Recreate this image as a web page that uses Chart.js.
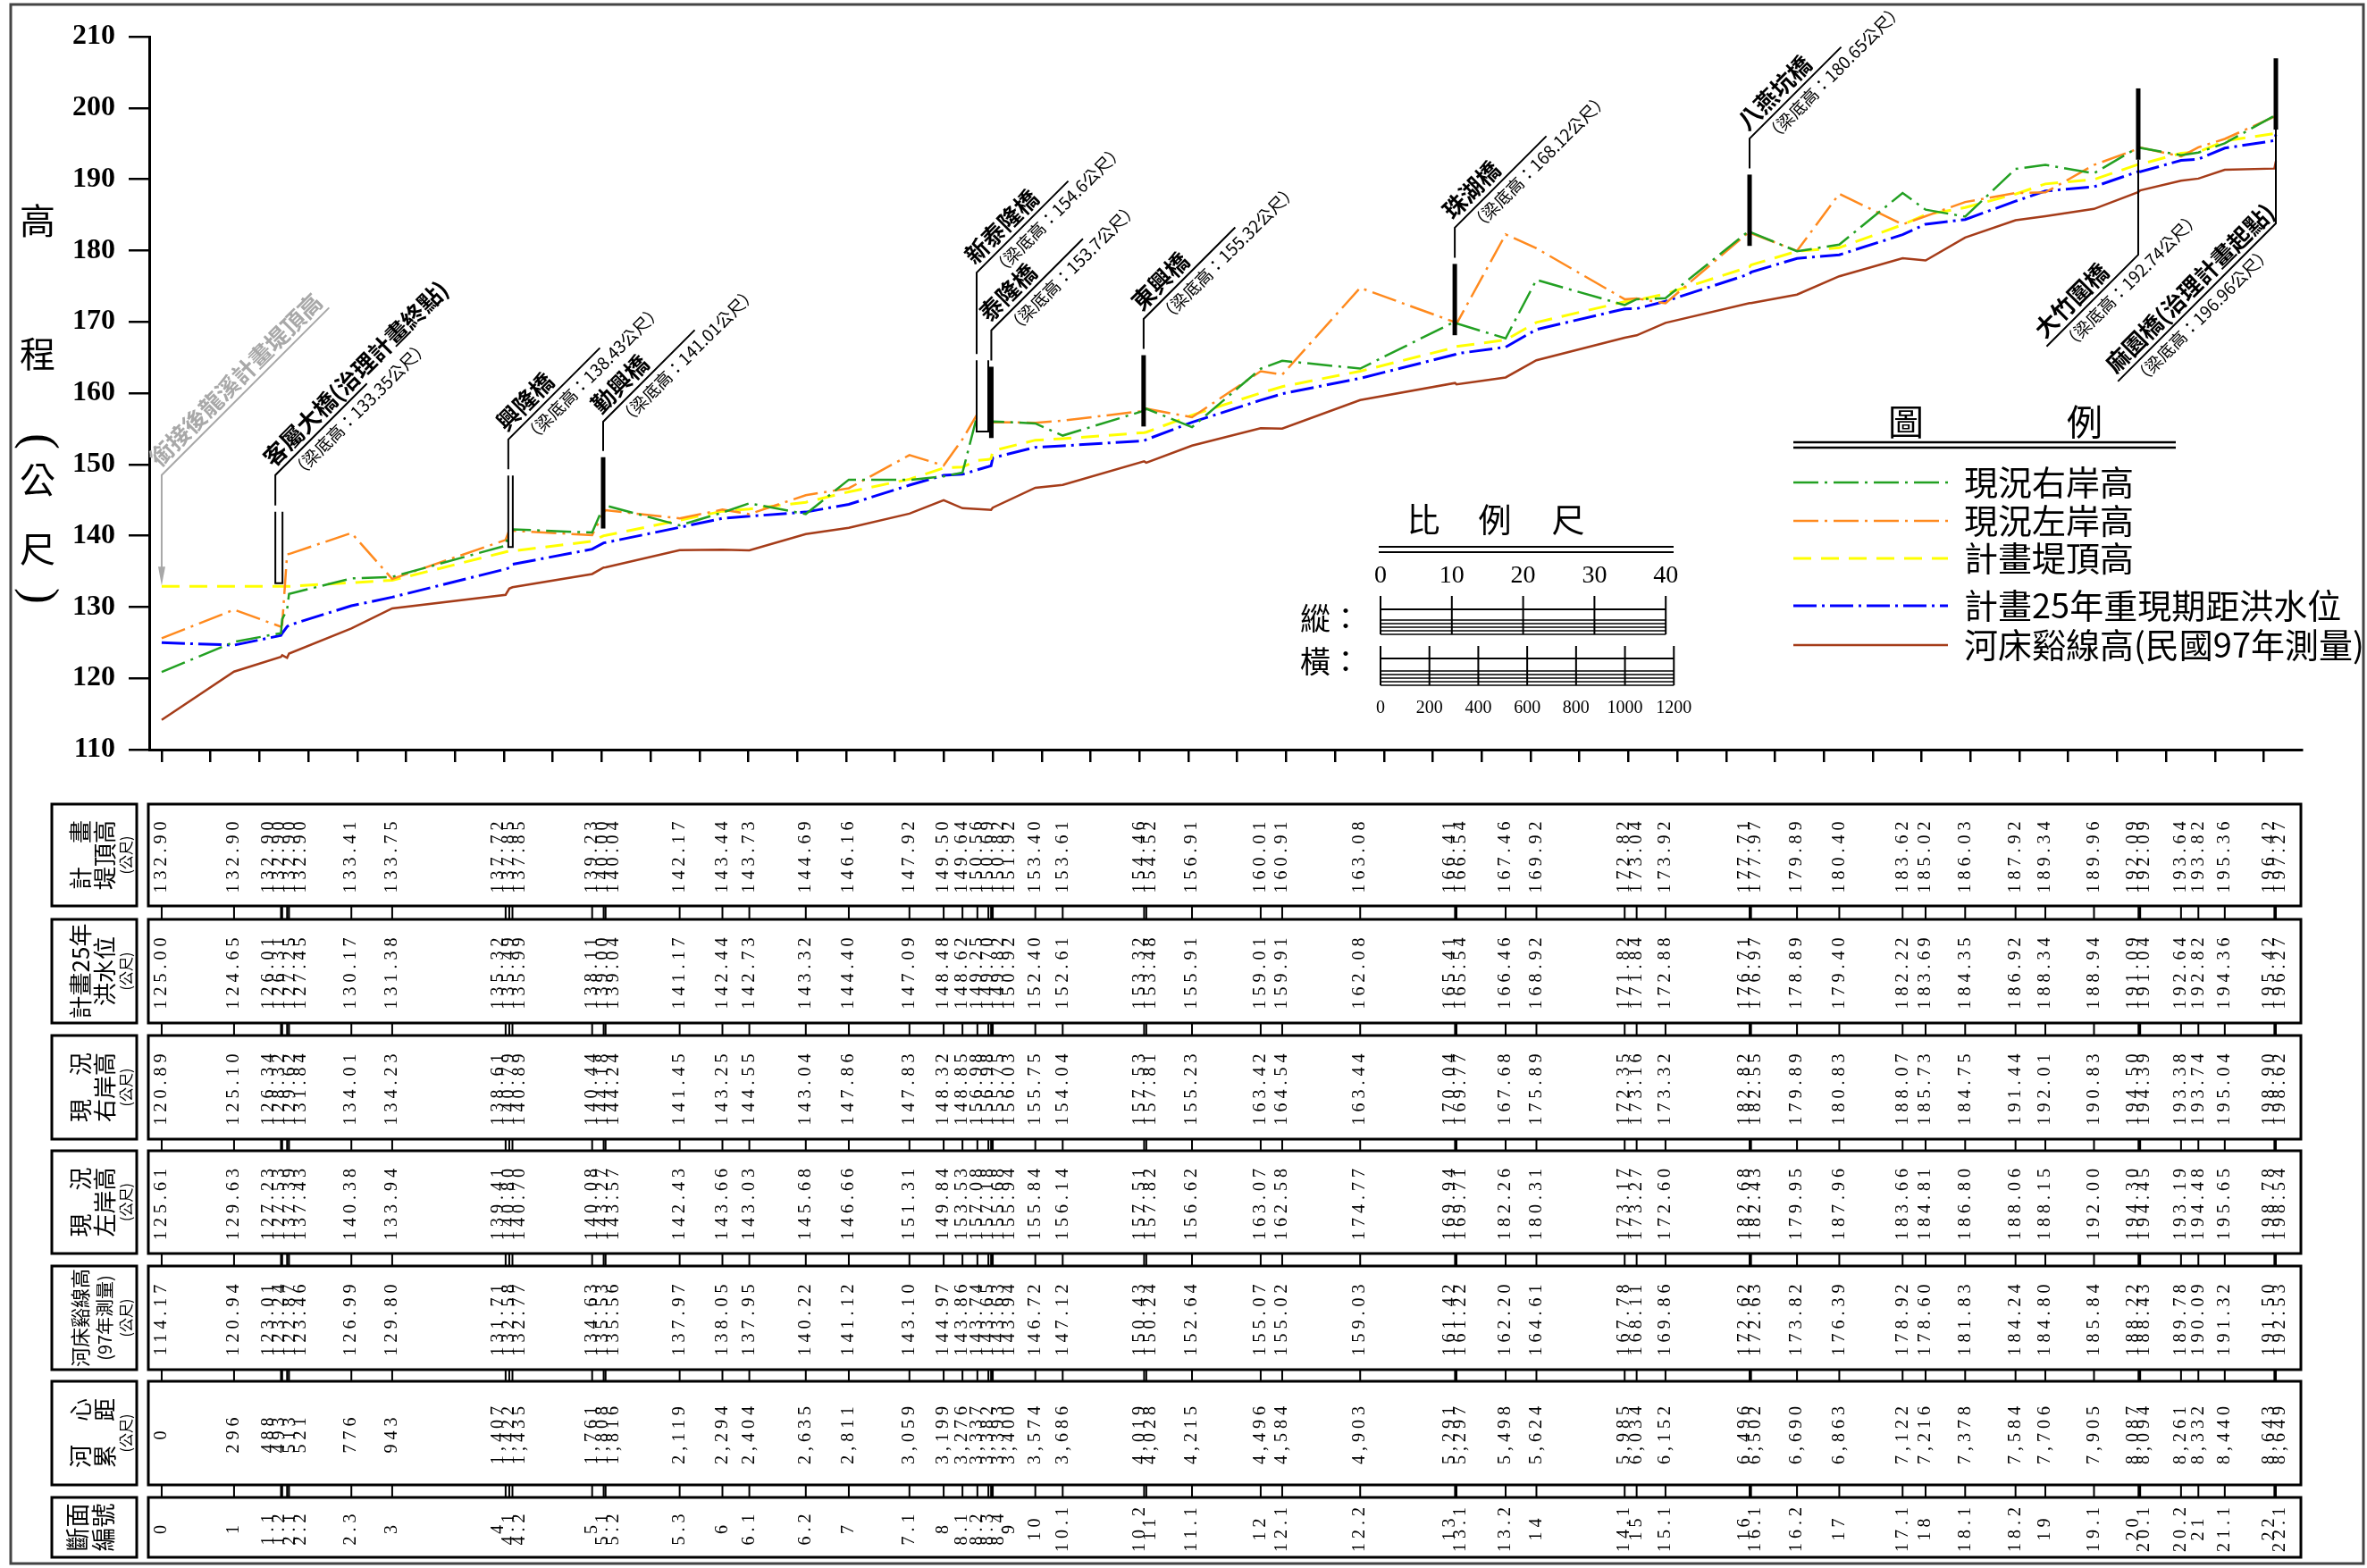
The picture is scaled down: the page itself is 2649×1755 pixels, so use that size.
<!DOCTYPE html>
<html>
<head>
<meta charset="utf-8">
<script src="https://cdn.jsdelivr.net/npm/chart.js@4.4.1/dist/chart.umd.min.js"></script>
<style>
  html, body { margin: 0; padding: 0; background: #fff; }
  #wrap { width: 2649px; height: 1755px; position: relative; }
</style>
</head>
<body>
<div id="wrap"><canvas id="profileChart" width="2649" height="1755"></canvas></div>
<script>
'use strict';

// section numbers and cumulative centreline distance (m)
const sectionNames = ['0', '1', '1.1', '1.2', '2.1', '2.2', '2.3', '3', '4', '4.1', '4.2', '5', '5.1', '5.2', '5.3', '6', '6.1', '6.2', '7', '7.1',
  '8', '8.1', '8.2', '8.3', '8.4', '9', '10', '10.1', '10.2', '11', '11.1', '12', '12.1', '12.2', '13', '13.1', '13.2', '14', '14.1', '15',
  '15.1', '16', '16.1', '16.2', '17', '17.1', '18', '18.1', '18.2', '19', '19.1', '20', '20.1', '20.2', '21', '21.1', '22', '22.1'];
const distances = [0, 296, 488, 493, 513, 521, 776, 943, 1407, 1422, 1435, 1761, 1808, 1816, 2119, 2294, 2404, 2635, 2811, 3059,
  3199, 3276, 3337, 3382, 3393, 3400, 3574, 3686, 4019, 4028, 4215, 4496, 4584, 4903, 5291, 5297, 5498, 5624, 5985, 6034,
  6152, 6496, 6502, 6690, 6863, 7122, 7216, 7378, 7584, 7706, 7905, 8087, 8094, 8261, 8332, 8440, 8643, 8649];

// elevations (m)
const designDike = [132.90, 132.90, 132.90, 132.90, 132.90, 132.90, 133.41, 133.75, 137.72, 137.85, 137.85, 139.23, 140.00, 140.04, 142.17, 143.44, 143.73, 144.69, 146.16, 147.92,
  149.50, 149.64, 150.56, 150.69, 150.82, 151.92, 153.40, 153.61, 154.46, 154.52, 156.91, 160.01, 160.91, 163.08, 166.41, 166.54, 167.46, 169.92, 172.82, 173.04,
  173.92, 177.71, 177.97, 179.89, 180.40, 183.62, 185.02, 186.03, 187.92, 189.34, 189.96, 192.09, 192.09, 193.64, 193.82, 195.36, 196.42, 197.27];
const floodLevel25 = [125.00, 124.65, 126.01, 126.31, 127.25, 127.45, 130.17, 131.38, 135.32, 135.49, 135.99, 138.11, 139.00, 139.04, 141.17, 142.44, 142.73, 143.32, 144.40, 147.09,
  148.48, 148.62, 149.25, 149.70, 149.82, 150.92, 152.40, 152.61, 153.32, 153.48, 155.91, 159.01, 159.91, 162.08, 165.41, 165.54, 166.46, 168.92, 171.82, 171.84,
  172.88, 176.71, 176.97, 178.89, 179.40, 182.22, 183.69, 184.35, 186.92, 188.34, 188.94, 191.09, 191.04, 192.64, 192.82, 194.36, 195.42, 196.27];
const rightBank = [120.89, 125.10, 126.34, 128.32, 129.62, 131.84, 134.01, 134.23, 138.61, 140.79, 140.89, 140.44, 144.18, 144.24, 141.45, 143.25, 144.55, 143.04, 147.86, 147.83,
  148.32, 148.85, 156.98, 156.98, 155.75, 156.03, 155.75, 154.04, 157.53, 157.81, 155.23, 163.42, 164.54, 163.44, 170.04, 169.77, 167.68, 175.89, 172.35, 173.16,
  173.32, 182.82, 182.55, 179.89, 180.83, 188.07, 185.73, 184.75, 191.44, 192.01, 190.83, 194.50, 194.39, 193.38, 193.74, 195.04, 198.90, 198.62];
const leftBank = [125.61, 129.63, 127.23, 127.53, 137.39, 137.43, 140.38, 133.94, 139.41, 140.80, 140.70, 140.08, 143.27, 143.57, 142.43, 143.66, 143.03, 145.68, 146.66, 151.31,
  149.84, 153.53, 157.08, 157.18, 155.68, 155.94, 155.84, 156.14, 157.51, 157.82, 156.62, 163.07, 162.58, 174.77, 169.94, 169.71, 182.26, 180.31, 173.17, 173.27,
  172.60, 182.68, 182.43, 179.95, 187.96, 183.66, 184.81, 186.80, 188.06, 188.15, 192.00, 194.30, 194.45, 193.19, 194.48, 195.65, 198.78, 198.54];
const bedLevel = [114.17, 120.94, 123.01, 123.24, 122.87, 123.46, 126.99, 129.80, 131.71, 132.58, 132.77, 134.63, 135.53, 135.56, 137.97, 138.05, 137.95, 140.22, 141.12, 143.10,
  144.97, 143.86, 143.74, 143.65, 143.63, 143.94, 146.72, 147.12, 150.43, 150.24, 152.64, 155.07, 155.02, 159.03, 161.42, 161.22, 162.20, 164.61, 167.78, 168.11,
  169.86, 172.62, 172.63, 173.82, 176.39, 178.92, 178.60, 181.83, 184.24, 184.80, 185.84, 188.22, 188.43, 189.78, 190.09, 191.32, 191.50, 192.53];

const xTickValues = [];
for (let d = 0; d <= 8600; d += 200) xTickValues.push(d);
const vScaleLabels = [0, 10, 20, 30, 40];
const hScaleLabels = [0, 200, 400, 600, 800, 1000, 1200];

// bridges: dist (m), beam bottom (m), elevation where the leader bends
const bridges = [
  { name: '客屬大橋(治理計畫終點)', beam: 133.35, dist: 465, bend: 148.5, bar: 'hollow', w: 8 },
  { name: '興隆橋', beam: 138.43, dist: 1418, bend: 153.5, bar: 'hollow', w: 5 },
  { name: '勤興橋', beam: 141.01, dist: 1806, bend: 156.0, bar: 'solid' },
  { name: '新泰隆橋', beam: 154.6, dist: 3334, bend: 176.9, bar: 'hollow', w: 13 },
  { name: '泰隆橋', beam: 153.7, dist: 3394, bend: 168.8, bar: 'solid' },
  { name: '東興橋', beam: 155.32, dist: 4017, bend: 170.4, bar: 'solid' },
  { name: '珠湖橋', beam: 168.12, dist: 5290, bend: 183.2, bar: 'solid' },
  { name: '八燕坑橋', beam: 180.65, dist: 6496, bend: 195.7, bar: 'solid' },
  { name: '大竹圍橋', beam: 192.74, dist: 8086, bend: 179.4, bar: 'solid', dir: 'down' },
  { name: '麻園橋(治理計畫起點)', beam: 196.96, dist: 8649, bend: 183.8, bar: 'solid', dir: 'down', len: 250 }
];

const rowHeaders = [
  ['計　畫', '堤頂高', '(公尺)'],
  ['計畫25年', '洪水位', '(公尺)'],
  ['現　況', '右岸高', '(公尺)'],
  ['現　況', '左岸高', '(公尺)'],
  ['河床谿線高', '(97年測量)', '(公尺)'],
  ['河　心', '累　距', '(公尺)'],
  ['斷面', '編號']
];

const FONT_CJK = '"Noto Sans CJK TC", "Noto Sans CJK SC", sans-serif';
const FONT_NUM = '"Liberation Serif", "DejaVu Serif", serif';

function toPoints(values) {
  return distances.map(function(d, i) {
    return { x: d, y: values[i] };
  });
}

function fmt2(v) {
  return v.toFixed(2);
}

function fmtDist(v) {
  return v.toLocaleString('en-US');
}

// stations closer than one text line get their labels fanned out round the group centre
function spreadPositions(px, gap) {
  const out = [];
  let i = 0;
  while (i < px.length) {
    let j = i;
    while (j + 1 < px.length && px[j + 1] - px[j] < gap) j++;
    const n = j - i + 1;
    let mean = 0;
    for (let k = i; k <= j; k++) mean += px[k];
    mean /= n;
    for (let k = 0; k < n; k++) out.push(mean + (k - (n - 1) / 2) * gap);
    i = j + 1;
  }
  for (let k = 1; k < out.length; k++) out[k] = Math.max(out[k], out[k - 1] + gap);
  return out;
}

function drawVertical(ctx, text, cx, cy, font, spacing) {
  ctx.save();
  ctx.translate(cx, cy);
  ctx.rotate(-Math.PI / 2);
  ctx.font = font;
  ctx.letterSpacing = spacing || '0px';
  ctx.textAlign = 'center';
  ctx.textBaseline = 'middle';
  ctx.fillText(text, 0, 0);
  ctx.restore();
}

function drawSlantLabel(ctx, ax, ay, name, sub, color) {
  ctx.save();
  ctx.translate(ax, ay);
  ctx.rotate(-Math.PI / 4);
  ctx.fillStyle = color;
  ctx.font = 'bold 26px ' + FONT_CJK;
  ctx.textAlign = 'left';
  ctx.textBaseline = 'alphabetic';
  ctx.fillText(name, 4, -7);
  if (sub) {
    ctx.font = '19px ' + FONT_CJK;
    ctx.textBaseline = 'top';
    ctx.fillText(sub, 14, 5);
  }
  ctx.restore();
}

function drawBridge(ctx, xs, ys, b) {
  const px = xs.getPixelForValue(b.dist);
  const beamY = ys.getPixelForValue(b.beam);
  const barTopY = ys.getPixelForValue(b.beam + 10);
  const bendY = ys.getPixelForValue(b.bend);
  const step = (b.len || 145) / Math.SQRT2;
  let ax, ay;

  ctx.save();
  ctx.strokeStyle = '#000';
  ctx.lineWidth = 2;
  if (b.bar === 'hollow') {
    ctx.fillStyle = '#fff';
    ctx.fillRect(px, barTopY, b.w, beamY - barTopY);
    ctx.beginPath();
    ctx.moveTo(px, barTopY);
    ctx.lineTo(px, beamY);
    ctx.lineTo(px + b.w, beamY);
    ctx.lineTo(px + b.w, barTopY);
    ctx.stroke();
  } else {
    ctx.fillStyle = '#000';
    ctx.fillRect(px - 2.5, barTopY, 5, beamY - barTopY);
  }

  ctx.beginPath();
  if (b.dir === 'down') {
    ctx.moveTo(px, beamY);
    ctx.lineTo(px, bendY);
    ax = px - step;
    ay = bendY + step;
    ctx.lineTo(ax, ay);
  } else {
    ctx.moveTo(px, barTopY - 7);
    ctx.lineTo(px, bendY);
    ctx.lineTo(px + step, bendY - step);
    ax = px;
    ay = bendY;
  }
  ctx.stroke();
  ctx.restore();

  drawSlantLabel(ctx, ax, ay, b.name, '（梁底高：' + b.beam + '公尺）', '#000');
}

function drawJoinNote(ctx, xs, ys) {
  const px = xs.getPixelForValue(0);
  const bendY = ys.getPixelForValue(148.5);
  const tipY = ys.getPixelForValue(designDike[0]);
  const step = 265 / Math.SQRT2;
  ctx.save();
  ctx.strokeStyle = '#a8a8a8';
  ctx.fillStyle = '#a8a8a8';
  ctx.lineWidth = 2;
  ctx.beginPath();
  ctx.moveTo(px + step, bendY - step);
  ctx.lineTo(px, bendY);
  ctx.lineTo(px, tipY - 20);
  ctx.stroke();
  ctx.beginPath();
  ctx.moveTo(px - 4, tipY - 22);
  ctx.lineTo(px + 4, tipY - 22);
  ctx.lineTo(px, tipY - 1);
  ctx.closePath();
  ctx.fill();
  ctx.restore();
  drawSlantLabel(ctx, px, bendY, '銜接後龍溪計畫堤頂高', null, '#a8a8a8');
}

function drawAxisTitle(ctx) {
  ctx.save();
  ctx.fillStyle = '#000';
  ctx.textAlign = 'center';
  ctx.textBaseline = 'middle';
  ctx.font = '40px ' + FONT_CJK;
  ctx.fillText('高', 42, 247);
  ctx.fillText('程', 42, 396);
  ctx.fillText('公', 42, 537);
  ctx.fillText('尺', 42, 614);
  ctx.font = '54px ' + FONT_NUM;
  [['(', 494], [')', 667]].forEach(function(p) {
    ctx.save();
    ctx.translate(42, p[1]);
    ctx.rotate(Math.PI / 2);
    ctx.fillText(p[0], 0, 0);
    ctx.restore();
  });
  ctx.restore();
}

function drawLegend(chart) {
  const ctx = chart.ctx;
  const rowY = [540, 583, 625, 678, 722];
  ctx.save();
  ctx.fillStyle = '#000';
  ctx.strokeStyle = '#000';
  ctx.font = '40px ' + FONT_CJK;
  ctx.textAlign = 'center';
  ctx.textBaseline = 'middle';
  ctx.fillText('圖', 2133, 472);
  ctx.fillText('例', 2333, 472);
  ctx.lineWidth = 2.5;
  [495, 501].forEach(function(y) {
    ctx.beginPath();
    ctx.moveTo(2007, y);
    ctx.lineTo(2435, y);
    ctx.stroke();
  });
  ctx.textAlign = 'left';
  ctx.font = '38px ' + FONT_CJK;
  chart.data.datasets.forEach(function(ds, i) {
    ctx.save();
    ctx.strokeStyle = ds.borderColor;
    ctx.lineWidth = ds.borderWidth;
    ctx.setLineDash(ds.borderDash || []);
    ctx.beginPath();
    ctx.moveTo(2007, rowY[i]);
    ctx.lineTo(2180, rowY[i]);
    ctx.stroke();
    ctx.restore();
    ctx.fillText(ds.label, 2198, rowY[i]);
  });
  ctx.restore();
}

function drawRuler(ctx, x0, step, n, top, mid, bandTop, bottom) {
  ctx.lineWidth = 2;
  ctx.beginPath();
  for (let k = 0; k <= n; k++) {
    ctx.moveTo(x0 + k * step, top);
    ctx.lineTo(x0 + k * step, bottom);
  }
  ctx.moveTo(x0, mid);
  ctx.lineTo(x0 + n * step, mid);
  ctx.stroke();
  ctx.lineWidth = 1.5;
  ctx.beginPath();
  for (let y = bandTop; y <= bottom; y += 4) {
    ctx.moveTo(x0, y);
    ctx.lineTo(x0 + n * step, y);
  }
  ctx.stroke();
}

function drawScaleBar(chart) {
  const ctx = chart.ctx;
  const xs = chart.scales.x;
  const ys = chart.scales.y;
  const x0 = 1545;
  const vStep = ys.getPixelForValue(110) - ys.getPixelForValue(120);
  const hStep = xs.getPixelForValue(200) - xs.getPixelForValue(0);

  ctx.save();
  ctx.fillStyle = '#000';
  ctx.strokeStyle = '#000';
  ctx.textAlign = 'center';
  ctx.textBaseline = 'middle';
  ctx.font = '37px ' + FONT_CJK;
  ctx.fillText('比', 1593, 582);
  ctx.fillText('例', 1673, 582);
  ctx.fillText('尺', 1755, 582);
  ctx.lineWidth = 2;
  [612, 618].forEach(function(y) {
    ctx.beginPath();
    ctx.moveTo(1543, y);
    ctx.lineTo(1873, y);
    ctx.stroke();
  });

  ctx.font = '34px ' + FONT_CJK;
  ctx.fillText('縱：', 1489, 692);
  ctx.fillText('橫：', 1489, 740);

  ctx.font = '28px ' + FONT_NUM;
  vScaleLabels.forEach(function(v, k) {
    ctx.fillText(String(v), x0 + k * vStep, 645);
  });
  drawRuler(ctx, x0, vStep, vScaleLabels.length - 1, 667, 682, 694, 710);

  drawRuler(ctx, x0, hStep, hScaleLabels.length - 1, 723, 737, 751, 767);
  ctx.font = '20px ' + FONT_NUM;
  hScaleLabels.forEach(function(v, k) {
    ctx.fillText(String(v), x0 + k * hStep, 793);
  });
  ctx.restore();
}

function drawTable(chart) {
  const ctx = chart.ctx;
  const xs = chart.scales.x;
  const rowBoxes = [[900, 1014], [1029, 1145], [1159, 1275], [1288, 1403], [1417, 1533], [1546, 1662], [1676, 1743]];
  const cells = [designDike.map(fmt2), floodLevel25.map(fmt2), rightBank.map(fmt2), leftBank.map(fmt2),
    bedLevel.map(fmt2), distances.map(fmtDist), sectionNames];
  const headLeft = 58;
  const headRight = 153;
  const boxLeft = chart.chartArea.left - 1;
  const boxRight = chart.chartArea.right - 1;
  const stationX = distances.map(function(d) { return xs.getPixelForValue(d); });
  const labelX = spreadPositions(stationX, 12);

  ctx.save();
  ctx.strokeStyle = '#000';
  ctx.fillStyle = '#000';

  // station ticks between the boxes
  ctx.lineWidth = 2;
  for (let r = 0; r < rowBoxes.length - 1; r++) {
    const y1 = rowBoxes[r][1];
    const y2 = rowBoxes[r + 1][0];
    ctx.beginPath();
    stationX.forEach(function(sx) {
      ctx.moveTo(sx, y1);
      ctx.lineTo(sx, y2);
    });
    ctx.stroke();
  }

  rowBoxes.forEach(function(box, r) {
    const top = box[0];
    const bottom = box[1];
    const cy = (top + bottom) / 2;
    ctx.lineWidth = 3;
    ctx.strokeRect(headLeft, top, headRight - headLeft, bottom - top);
    ctx.strokeRect(boxLeft, top, boxRight - boxLeft, bottom - top);

    const cols = rowHeaders[r];
    if (cols.length === 2) {
      drawVertical(ctx, cols[0], 87, cy, '27px ' + FONT_CJK);
      drawVertical(ctx, cols[1], 116, cy, '27px ' + FONT_CJK);
    } else {
      const mainSize = r === 4 ? 22 : 26;
      drawVertical(ctx, cols[0], 90, cy, mainSize + 'px ' + FONT_CJK);
      drawVertical(ctx, cols[1], 117, cy, (r === 4 ? 20 : 26) + 'px ' + FONT_CJK);
      drawVertical(ctx, cols[2], 141, cy, '16px ' + FONT_CJK);
    }

    cells[r].forEach(function(txt, i) {
      drawVertical(ctx, txt, labelX[i], cy, '20px ' + FONT_NUM, '5px');
    });
  });
  ctx.restore();
}

let sheetPlugin = {
  id: 'profileSheet',
  afterDraw: function(chart) {
    const ctx = chart.ctx;
    const xs = chart.scales.x;
    const ys = chart.scales.y;
    drawJoinNote(ctx, xs, ys);
    bridges.forEach(function(b) {
      drawBridge(ctx, xs, ys, b);
    });
    drawAxisTitle(ctx);
    drawLegend(chart);
    drawScaleBar(chart);
    drawTable(chart);
    ctx.save();
    ctx.strokeStyle = '#444';
    ctx.lineWidth = 3;
    ctx.strokeRect(12, 5, 2633, 1745);
    ctx.restore();
  }
};

let whiteBackground = {
  id: 'whiteBackground',
  beforeDraw: function(chart) {
    const ctx = chart.ctx;
    ctx.save();
    ctx.fillStyle = '#fff';
    ctx.fillRect(0, 0, chart.width, chart.height);
    ctx.restore();
  }
};

let profileChart = new Chart(document.getElementById('profileChart'), {
  type: 'line',
  data: {
    datasets: [
      {
        label: '現況右岸高',
        data: toPoints(rightBank),
        borderColor: '#22a022',
        borderWidth: 2.5,
        borderDash: [28, 7, 3, 7]
      },
      {
        label: '現況左岸高',
        data: toPoints(leftBank),
        borderColor: '#ff8a1e',
        borderWidth: 2.5,
        borderDash: [28, 7, 3, 7]
      },
      {
        label: '計畫堤頂高',
        data: toPoints(designDike),
        borderColor: '#ffff00',
        borderWidth: 3,
        borderDash: [20, 11]
      },
      {
        label: '計畫25年重現期距洪水位',
        data: toPoints(floodLevel25),
        borderColor: '#0000ff',
        borderWidth: 3,
        borderDash: [26, 6, 3, 6]
      },
      {
        label: '河床谿線高(民國97年測量)',
        data: toPoints(bedLevel),
        borderColor: '#a53c19',
        borderWidth: 2.5
      }
    ]
  },
  options: {
    responsive: false,
    animation: false,
    elements: {
      point: { radius: 0, hoverRadius: 0 },
      line: { tension: 0, fill: false }
    },
    layout: { padding: { left: 0, top: 41, right: 73, bottom: 902 } },
    plugins: {
      legend: { display: false },
      tooltip: { enabled: false }
    },
    scales: {
      x: {
        type: 'linear',
        min: -51,
        max: 8755,
        afterBuildTicks: function(scale) {
          scale.ticks = xTickValues.map(function(v) { return { value: v }; });
        },
        afterFit: function(scale) {
          scale.height = 14;
        },
        ticks: { display: false },
        grid: { drawOnChartArea: false, drawTicks: true, tickLength: 14, lineWidth: 2.5, color: '#000' },
        border: { display: true, color: '#000', width: 3 }
      },
      y: {
        min: 110,
        max: 210,
        afterFit: function(scale) {
          scale.width = 167;
        },
        ticks: {
          stepSize: 10,
          padding: 15,
          color: '#000',
          font: { family: FONT_NUM, size: 32, weight: 'bold' }
        },
        grid: { drawOnChartArea: false, drawTicks: true, tickLength: 23, lineWidth: 2.5, color: '#000' },
        border: { display: true, color: '#000', width: 3 }
      }
    }
  },
  plugins: [whiteBackground, sheetPlugin]
});
</script>
</body>
</html>
